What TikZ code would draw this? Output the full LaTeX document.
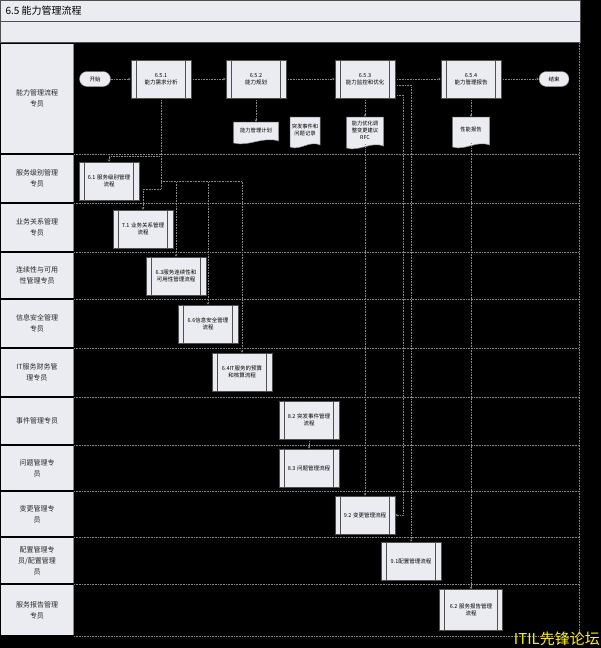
\documentclass[tikz,border=0pt]{standalone}
\usepackage{fontspec}
\setmainfont{Noto Sans CJK SC}
\usetikzlibrary{arrows.meta,calc}
\definecolor{boxfill}{HTML}{EBECF1}
\definecolor{lnline}{HTML}{8A8A8A}
\definecolor{innerc}{HTML}{505050}
\definecolor{wmc}{HTML}{FFF200}
\pgfdeclarelayer{bgl}
\pgfdeclarelayer{conns}
\pgfsetlayers{bgl,conns,main}
\newcommand\docshape[4]{%
  \filldraw[fill=boxfill, draw=lnline, line width=0.5pt]
   ({#1-#3/2},{#2-#4/2}) -- ({#1+#3/2},{#2-#4/2}) -- ({#1+#3/2},{#2+#4/2-2})
   .. controls ({#1+#3/6},{#2+#4/2-7}) and ({#1-#3/6},{#2+#4/2+4}) .. ({#1-#3/2},{#2+#4/2}) -- cycle;}
\begin{document}
\begin{tikzpicture}[x=1pt,y=-1pt,
  proc/.style={draw=innerc, line width=0.6pt, fill=boxfill, minimum width=60pt, minimum height=38pt,
    align=center, font=\fontsize{5.5}{7.5}\selectfont, inner sep=1pt, text width=46pt},
  term/.style={draw=lnline, fill=boxfill, rounded corners=7.5pt, minimum width=31pt, minimum height=15pt,
    font=\fontsize{5.5}{7}\selectfont, inner sep=0pt},
  doctext/.style={align=center, font=\fontsize{5.3}{7}\selectfont, inner sep=0pt},
  lanelab/.style={align=center, font=\fontsize{7}{11}\selectfont, text width=62pt, text=black!85},
  conn/.style={draw=lnline, densely dotted, line width=0.6pt, -{Stealth[length=2.5pt,width=2.5pt]}},
  lanesep/.style={draw=lnline, densely dotted, line width=0.6pt},
]
\useasboundingbox (0,0) rectangle (601,648);
\begin{pgfonlayer}{bgl}
\fill[black] (0,0) rectangle (601,648);
% title bars
\filldraw[fill=boxfill, draw=innerc, line width=0.8pt] (0.4,0.4) rectangle (580,21.5);
\filldraw[fill=boxfill, draw=innerc, line width=0.8pt] (0.4,21.5) rectangle (580,42.5);
% lanes
\foreach \t/\b/\lab [count=\i] in {
  43/154/{能力管理流程\\专员},
  154/203/{服务级别管理\\专员},
  203/252/{业务关系管理\\专员},
  252/299/{连续性与可用\\性管理专员},
  299/348/{信息安全管理\\专员},
  348/397/{IT服务财务管\\理专员},
  397/445/{事件管理专员},
  445/491/{问题管理专\\员},
  491/537/{变更管理专\\员},
  537/584/{配置管理专\\员/配置管理\\员},
  584/636/{服务报告管理\\专员}}{
  \fill[boxfill] (1,\t+1) rectangle (73,\b-1);
  \draw[lnline, line width=0.8pt] (73.5,\t+1) -- (73.5,\b-1);
  \node[lanelab] (lane\i) at (37,{(\t+\b)/2}) {\lab};
  \draw[lanesep] (74,\b) -- (579,\b);
}
\draw[lanesep] (579,43) -- (579,636);
% documents
\docshape{256}{132.5}{45}{21}
\docshape{305}{132}{30}{30}
\docshape{365}{132.5}{37}{31}
\docshape{471}{132}{37}{30}
\end{pgfonlayer}

\node[anchor=west, font=\fontsize{10}{12}\selectfont, text=black] (title) at (2,11) {6.5 能力管理流程};

% main flow
\node[term] (start) at (95,79) {开始};
\node[proc] (p651) at (161,79) {6.5.1\\能力需求分析};
\node[proc] (p652) at (256,79) {6.5.2\\能力规划};
\node[proc] (p653) at (365,79) {6.5.3\\能力监控和优化};
\node[proc] (p654) at (471,79) {6.5.4\\能力管理报告};
\node[term, minimum width=30pt] (end) at (554,79) {结束};

% document texts
\node[doctext, minimum width=45pt, minimum height=17pt] (doc1) at (256,130.5) {能力管理计划};
\node[doctext, minimum width=30pt, minimum height=26pt] (doc2) at (305,130) {突发事件和\\问题记录};
\node[doctext, minimum width=37pt, minimum height=27pt] (doc3) at (365,130.5) {能力优化调\\整变更建议\\RFC};
\node[doctext, minimum width=37pt, minimum height=26pt] (doc4) at (471,130) {性能报告};

% sub processes
\node[proc] (s61) at (109,181) {6.1 服务级别管理\\流程};
\node[proc] (s71) at (143,229) {7.1 业务关系管理\\流程};
\node[proc] (s63) at (176,276) {6.3服务连续性和\\可用性管理流程};
\node[proc] (s66) at (208,324) {6.6信息安全管理\\流程};
\node[proc] (s64) at (242,372) {6.4IT服务的预算\\和核算流程};
\node[proc] (s82) at (309,420) {8.2 突发事件管理\\流程};
\node[proc] (s83) at (309,468) {8.3 问题管理流程};
\node[proc] (s92) at (365,515) {9.2 变更管理流程};
\node[proc] (s91) at (411,561) {9.1配置管理流程};
\node[proc, minimum width=63pt, minimum height=41pt] (s62) at (471,610) {6.2 服务报告管理\\流程};

\foreach \n in {p651,p652,p653,p654,s61,s71,s63,s66,s64,s82,s83,s92,s91,s62}{
  \draw[innerc, line width=1.3pt] ([xshift=5.5pt]\n.north west) -- ([xshift=5.5pt]\n.south west);
  \draw[innerc, line width=1.3pt] ([xshift=-5.5pt]\n.north east) -- ([xshift=-5.5pt]\n.south east);
}

\node[anchor=south east, text=wmc, font=\fontsize{15}{15}\selectfont, inner sep=0pt] (wm) at (600,646) {ITIL先锋论坛};

\begin{pgfonlayer}{conns}
\coordinate (b1) at (161,156);
\coordinate (b2) at (161,181);
\coordinate (b3) at (161,189);
\draw[conn] (start) -- (p651);
\draw[conn] (p651) -- (p652);
\draw[conn] (p652) -- (p653);
\draw[conn] (p653) -- (p654);
\draw[conn] (p654) -- (end);
\draw[conn] (p652) -- (doc1);
\draw[conn] (p653) -- (doc3);
\draw[conn] (p654) -- (doc4);
\draw[conn] (doc4.south) -- (s62);
\draw[conn] (doc3.south) -- (s92);
\draw[conn] (p651.south) -- (b1) -| (s61.north);
\draw[conn] (p651.south) -- (b3) -| (s71.north);
\draw[conn] (b2) -| (s63.north);
\draw[conn] (b2) -| (s66.north);
\draw[conn] (b2) -| (s64.north);
\draw[conn] (s82) -- (s83);
\draw[conn] ([yshift=-6pt]p653.east) -| (s91.north);
\draw[conn] ([yshift=3pt]p653.south east) -- ++(8,0) |- (s92.east);
\end{pgfonlayer}
\end{tikzpicture}
\end{document}
